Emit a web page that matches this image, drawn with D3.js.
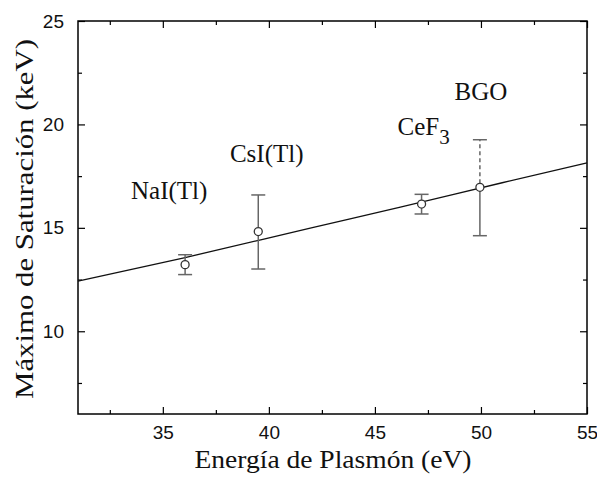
<!DOCTYPE html>
<html><head><meta charset="utf-8">
<script src="https://cdn.jsdelivr.net/npm/d3@7"></script>
<style>
html,body{margin:0;padding:0;background:#fff;}
svg{display:block;}
</style>
</head><body>
<svg id="chart" width="597" height="484"></svg>
<script>
// ---- data ----
const materials = ["NaI(Tl)", "CsI(Tl)", "CeF3", "BGO"];
const plasmonEnergy = [36.05, 39.5, 47.2, 49.95];
const saturationMax = [13.22, 14.82, 16.15, 16.96];
const errorHigh = [13.7, 16.59, 16.62, 19.26];
const errorLow = [12.74, 13.01, 15.67, 14.62];
const fitX = [31, 36, 42, 46.2, 51, 55];
const fitY = [12.42, 13.55, 15.0, 16.0, 17.18, 18.14];
const xMajorTicks = [35, 40, 45, 50, 55];
const xMinorTicks = [32.5, 37.5, 42.5, 47.5, 52.5];
const yMajorTicks = [10, 15, 20, 25];
const yMinorTicks = [7.5, 12.5, 17.5, 22.5];
const xTitle = "Energía de Plasmón (eV)";
const yTitle = "Máximo de Saturación (keV)";
// label anchor positions (data units)
const labelX = [35.3, 39.9, 47.3, 50.0];
const labelY = [16.4, 18.2, 19.5, 21.2];

// ---- drawing ----
const svg = d3.select("#chart");
const L = 78, R = 587, T = 21, B = 414;
const x = d3.scaleLinear().domain([31, 55]).range([L, R]);
const y = d3.scaleLinear().domain([6, 25]).range([B, T]);

const tickFont = "'Liberation Sans', Arial, sans-serif";
const serif = "'Liberation Serif', 'Times New Roman', serif";

function styleAxis(g){
  g.select(".domain").remove();
  g.selectAll(".tick line").attr("stroke", "#000").attr("stroke-width", 1.2);
  g.selectAll(".tick text").attr("font-family", tickFont).attr("font-size", 19).attr("fill", "#111");
}

// bottom
svg.append("g").attr("transform", `translate(0,${B})`)
  .call(d3.axisBottom(x).tickValues(xMajorTicks).tickSizeInner(-7).tickSizeOuter(0).tickPadding(12).tickFormat(d3.format("d")))
  .call(styleAxis);
svg.append("g").attr("transform", `translate(0,${B})`)
  .call(d3.axisBottom(x).tickValues(xMinorTicks).tickSizeInner(-4).tickSizeOuter(0).tickFormat(""))
  .call(styleAxis);
// top
svg.append("g").attr("transform", `translate(0,${T})`)
  .call(d3.axisTop(x).tickValues(xMajorTicks).tickSizeInner(-7).tickSizeOuter(0).tickFormat(""))
  .call(styleAxis);
svg.append("g").attr("transform", `translate(0,${T})`)
  .call(d3.axisTop(x).tickValues(xMinorTicks).tickSizeInner(-4).tickSizeOuter(0).tickFormat(""))
  .call(styleAxis);
// left
svg.append("g").attr("transform", `translate(${L},0)`)
  .call(d3.axisLeft(y).tickValues(yMajorTicks).tickSizeInner(-7).tickSizeOuter(0).tickPadding(14).tickFormat(d3.format("d")))
  .call(styleAxis);
svg.append("g").attr("transform", `translate(${L},0)`)
  .call(d3.axisLeft(y).tickValues(yMinorTicks).tickSizeInner(-4).tickSizeOuter(0).tickFormat(""))
  .call(styleAxis);
// right
svg.append("g").attr("transform", `translate(${R},0)`)
  .call(d3.axisRight(y).tickValues(yMajorTicks).tickSizeInner(-7).tickSizeOuter(0).tickFormat(""))
  .call(styleAxis);
svg.append("g").attr("transform", `translate(${R},0)`)
  .call(d3.axisRight(y).tickValues(yMinorTicks).tickSizeInner(-4).tickSizeOuter(0).tickFormat(""))
  .call(styleAxis);

// frame
svg.append("rect").attr("x", L).attr("y", T).attr("width", R - L).attr("height", B - T)
  .attr("fill", "none").attr("stroke", "#000").attr("stroke-width", 1.5);

// fit line
const fitData = fitX.map((v, i) => [v, fitY[i]]);
svg.append("path").datum(fitData)
  .attr("d", d3.line().x(d => x(d[0])).y(d => y(d[1])).curve(d3.curveMonotoneX))
  .attr("fill", "none").attr("stroke", "#111").attr("stroke-width", 1.3);

// error bars
const pts = materials.map((m, i) => ({m, x: plasmonEnergy[i], y: saturationMax[i], hi: errorHigh[i], lo: errorLow[i]}));
const capW = 7;
const eb = svg.append("g").attr("stroke", "#666").attr("stroke-width", 1.5).attr("fill", "none");
pts.forEach((p, i) => {
  const last = i === pts.length - 1;
  eb.append("line").attr("x1", x(p.x)).attr("x2", x(p.x)).attr("y1", y(p.y) + 4).attr("y2", y(p.lo));
  eb.append("line").attr("x1", x(p.x)).attr("x2", x(p.x)).attr("y1", y(p.y) - 4).attr("y2", y(p.hi))
    .attr("stroke-dasharray", last ? "4,3" : null);
  eb.append("line").attr("x1", x(p.x) - capW).attr("x2", x(p.x) + capW).attr("y1", y(p.hi)).attr("y2", y(p.hi));
  eb.append("line").attr("x1", x(p.x) - capW).attr("x2", x(p.x) + capW).attr("y1", y(p.lo)).attr("y2", y(p.lo));
});
svg.append("g").selectAll("circle").data(pts).join("circle")
  .attr("cx", d => x(d.x)).attr("cy", d => y(d.y)).attr("r", 4)
  .attr("fill", "#fff").attr("stroke", "#333").attr("stroke-width", 1.3);

// material labels
const lab = svg.append("g").attr("font-family", serif).attr("font-size", 25).attr("fill", "#111");
materials.forEach((m, i) => {
  const t = lab.append("text").attr("x", x(labelX[i])).attr("y", y(labelY[i])).attr("text-anchor", "middle");
  if (m === "CeF3") {
    t.append("tspan").text("CeF");
    t.append("tspan").text("3").attr("font-size", 21).attr("dy", 9);
  } else {
    t.text(m);
  }
});

// axis titles
svg.append("text").attr("x", 333).attr("y", 468).attr("text-anchor", "middle")
  .attr("font-family", serif).attr("font-size", 25).attr("fill", "#111")
  .attr("textLength", 277).attr("lengthAdjust", "spacingAndGlyphs").text(xTitle);
svg.append("text").attr("transform", "translate(33,219) rotate(-90)").attr("text-anchor", "middle")
  .attr("font-family", serif).attr("font-size", 25).attr("fill", "#111")
  .attr("textLength", 360).attr("lengthAdjust", "spacingAndGlyphs").text(yTitle);
</script>
</body></html>
